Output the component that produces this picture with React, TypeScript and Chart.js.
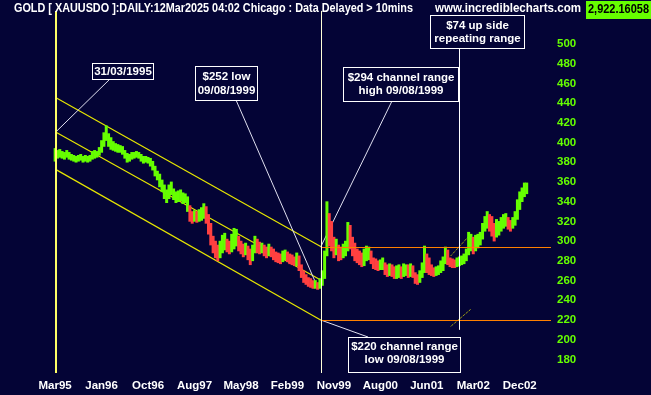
import React, { useEffect, useRef } from "react";
import { Chart, registerables } from "chart.js";

Chart.register(...registerables);

// x unit = one block of ~10 trading days, 0 = 31/03/1995
const xTickValues = [0, 20, 40, 60, 80, 100, 120, 140, 160, 180, 200];
const xTickLabels = ["Mar95", "Jan96", "Oct96", "Aug97", "May98", "Feb99", "Nov99", "Aug00", "Jun01", "Mar02", "Dec02"];
const yTickValues = [180, 200, 220, 240, 260, 280, 300, 320, 340, 360, 380, 400, 420, 440, 460, 480, 500];

const lows = [
  381, 384, 385, 384, 383, 385, 383, 382, 381, 380,
  381, 382, 380, 381, 380, 381, 383, 384, 385, 387,
  390, 396, 402, 396, 393, 392, 391, 390, 390, 388,
  384, 380, 381, 383, 384, 385, 384, 381, 379, 380,
  379, 376, 372, 366, 362, 355, 350, 343, 339, 343,
  347, 342, 339, 340, 341, 338, 339, 330, 320, 318,
  320, 319, 320, 321, 323, 318, 307, 296, 288, 283,
  280, 283, 288, 291, 289, 287, 289, 292, 295, 290,
  287, 284, 286, 281, 276, 280, 288, 288, 287, 288,
  285, 283, 285, 284, 281, 279, 278, 277, 279, 281,
  279, 277, 276, 275, 275, 270, 263, 258, 256, 254,
  253, 252, 252, 251, 252, 255, 262, 285, 295, 290,
  283, 286, 280, 281, 283, 285, 290, 292, 285, 280,
  278, 276, 274, 275, 280, 281, 277, 272, 271, 270,
  271, 271, 266, 264, 265, 264, 262, 262, 263, 262,
  264, 265, 263, 264, 263, 257, 256, 258, 263, 268,
  268, 266, 265, 264, 265, 266, 268, 270, 277, 276,
  274, 273, 273, 274, 275, 276, 277, 280, 286, 290,
  287, 290, 293, 296, 302, 310, 313, 310, 305, 300,
  304, 306, 310, 313, 315, 312, 310, 313, 316, 322,
  332, 340, 345, 348,
];
const highs = [
  394, 392, 393, 391, 390, 392, 390, 388, 387, 386,
  387, 388, 386, 387, 386, 387, 391, 392, 391, 395,
  402, 410, 417, 409, 405, 401, 399, 398, 397, 396,
  392, 389, 388, 390, 390, 391, 390, 388, 386, 386,
  385, 384, 381, 376, 371, 368, 362, 357, 352, 357,
  360, 353, 350, 351, 352, 349, 348, 345, 336, 330,
  331, 330, 332, 334, 338, 335, 327, 318, 305, 300,
  296, 300, 306, 308, 302, 300, 307, 313, 312, 305,
  300, 297, 298, 295, 292, 296, 305, 302, 299, 298,
  296, 294, 297, 294, 292, 289, 288, 287, 290, 291,
  289, 287, 286, 284, 288, 285, 276, 270, 266, 263,
  262, 260, 260, 258, 262, 270, 290, 340, 328, 320,
  304, 302, 296, 294, 297, 300, 319, 316, 304, 298,
  292, 290, 288, 292, 295, 294, 290, 283, 282, 280,
  281, 283, 278, 276, 277, 276, 274, 275, 276, 274,
  277, 276, 276, 277, 275, 268, 266, 270, 278, 295,
  287, 283, 276, 273, 274, 275, 280, 284, 294, 291,
  283, 282, 281, 283, 284, 285, 287, 292, 309, 307,
  304, 306, 307, 309, 318, 325, 330, 327, 325, 318,
  322, 320, 324, 327, 328, 324, 321, 324, 330, 342,
  350, 354, 359, 359,
];
const allGreenBefore = 58;

// annotation anchors (x units, price)
const channelStartX = 0;
const channelEndX = 114.3; // 09/08/1999
const channelUpper = [446, 294.5];
const channelMiddle = [411, 260.5];
const channelLower = [373, 220];
const rangeHigh = 294;
const rangeLow = 220;
const lowPoint = [113.2, 252];
const repeatX = 174;
const repeatBottom = 210;
const dotUpper = [[170.3, 285], [178.1, 305]];
const dotLower = [[170.3, 213.5], [179, 231]];

const BG = "#040436";
const GREEN = "#66ff00";
const RED = "#ff4040";
const FONT = "'Liberation Sans', Arial, sans-serif";

function fitText(ctx: CanvasRenderingContext2D, text: string, x: number, y: number, w: number, font: string, color: string) {
  ctx.save();
  ctx.font = font;
  ctx.fillStyle = color;
  ctx.textBaseline = "middle";
  ctx.textAlign = "left";
  const m = ctx.measureText(text).width;
  ctx.translate(x, y);
  ctx.scale(w / m, 1);
  ctx.fillText(text, 0, 0);
  ctx.restore();
}

function drawBox(ctx: CanvasRenderingContext2D, x1: number, y1: number, x2: number, y2: number, lines: string[], ys: number[]) {
  ctx.save();
  ctx.fillStyle = BG;
  ctx.fillRect(x1, y1, x2 - x1, y2 - y1);
  ctx.strokeStyle = "#ffffff";
  ctx.lineWidth = 1;
  ctx.strokeRect(x1 + 0.5, y1 + 0.5, x2 - x1, y2 - y1);
  ctx.fillStyle = "#ffffff";
  ctx.font = `bold 11.5px ${FONT}`;
  ctx.textAlign = "center";
  ctx.textBaseline = "middle";
  lines.forEach((t, i) => ctx.fillText(t, (x1 + x2) / 2 + 0.5, ys[i]));
  ctx.restore();
}

function line(ctx: CanvasRenderingContext2D, x1: number, y1: number, x2: number, y2: number, color: string, w = 1, dash: number[] = []) {
  ctx.save();
  ctx.strokeStyle = color;
  ctx.lineWidth = w;
  ctx.setLineDash(dash);
  ctx.beginPath();
  ctx.moveTo(x1, y1);
  ctx.lineTo(x2, y2);
  ctx.stroke();
  ctx.restore();
}

const decoPlugin = {
  id: "deco",
  beforeDraw(chart: any) {
    const ctx = chart.ctx;
    ctx.save();
    ctx.fillStyle = BG;
    ctx.fillRect(0, 0, chart.width, chart.height);
    ctx.restore();
  },
  beforeDatasetsDraw(chart: any) {
    const ctx = chart.ctx as CanvasRenderingContext2D;
    const X = (v: number) => chart.scales.x.getPixelForValue(v);
    const Y = (v: number) => chart.scales.y.getPixelForValue(v);
    const yel = "#e6e600";
    [channelUpper, channelMiddle, channelLower].forEach((c) =>
      line(ctx, X(channelStartX), Y(c[0]), X(channelEndX), Y(c[1]), yel, 1.2)
    );
    line(ctx, X(dotUpper[0][0]), Y(dotUpper[0][1]), X(dotUpper[1][0]), Y(dotUpper[1][1]), yel, 1, [1, 1]);
    line(ctx, X(dotLower[0][0]), Y(dotLower[0][1]), X(dotLower[1][0]), Y(dotLower[1][1]), yel, 1, [1, 1]);
    const conn = "#e0e0f0";
    line(ctx, 110, 79, X(channelStartX) + 1, Y(channelMiddle[0]), conn);
    line(ctx, 236, 100, X(lowPoint[0]), Y(lowPoint[1]), conn);
    line(ctx, 392, 101, X(channelEndX), Y(rangeHigh), conn);
    line(ctx, X(channelEndX), Y(rangeLow), 368, 337, conn);
  },
  afterDatasetsDraw(chart: any) {
    const ctx = chart.ctx as CanvasRenderingContext2D;
    const X = (v: number) => chart.scales.x.getPixelForValue(v);
    const Y = (v: number) => chart.scales.y.getPixelForValue(v);
    const R = (p: number) => Math.round(p) + 0.5;
    const { top, bottom } = chart.chartArea;
    const right = chart.chartArea.right - 2;
    const orange = "#ff8000";
    line(ctx, X(channelEndX), R(Y(rangeHigh)), right, R(Y(rangeHigh)), orange);
    line(ctx, X(channelEndX), R(Y(rangeLow)), right, R(Y(rangeLow)), orange);

    const x0 = Math.round(X(channelStartX));
    line(ctx, x0 + 1, top, x0 + 1, bottom, "#ffff66", 2);
    const x1 = Math.round(X(channelEndX)) + 0.5;
    line(ctx, x1, top, x1, bottom, "#ffffd8", 1);
    const x2 = Math.round(X(repeatX)) + 0.5;
    line(ctx, x2, 48, x2, Y(repeatBottom), "#ffffff", 1);

    drawBox(ctx, 92, 63, 153, 79, ["31/03/1995"], [71.5]);
    drawBox(ctx, 195, 66, 257, 100, ["$252 low", "09/08/1999"], [77, 90.5]);
    drawBox(ctx, 343, 67, 458, 101, ["$294 channel range", "high 09/08/1999"], [77.5, 91]);
    drawBox(ctx, 348, 337, 460, 372, ["$220 channel range", "low 09/08/1999"], [346.5, 360]);
    drawBox(ctx, 430, 15, 524, 48, ["$74 up side", "repeating range"], [26, 39]);

    fitText(ctx, "GOLD [ XAUUSDO ]:DAILY:12Mar2025 04:02 Chicago : Data Delayed > 10mins", 14, 8.5, 399, `bold 12px ${FONT}`, "#ffffff");
    fitText(ctx, "www.incrediblecharts.com", 435, 8.5, 146, `bold 12px ${FONT}`, "#ffffff");
    ctx.save();
    ctx.fillStyle = GREEN;
    ctx.fillRect(586, 1, 65, 18);
    ctx.restore();
    fitText(ctx, "2,922.16058", 588, 10, 61, `bold 12px ${FONT}`, "#000000");
  },
};

export default function App() {
  const ref = useRef<HTMLCanvasElement>(null);
  useEffect(() => {
    document.body.style.margin = "0";
    const colors = lows.map((lo, i) => {
      if (i < allGreenBefore) return GREEN;
      const mid = (lo + highs[i]) / 2;
      const prev = (lows[i - 1] + highs[i - 1]) / 2;
      return mid >= prev ? GREEN : RED;
    });
    const chart = new Chart(ref.current as HTMLCanvasElement, {
      type: "bar",
      data: {
        datasets: [
          {
            data: lows.map((lo, i) => ({ x: i, y: [lo, highs[i]] })) as any,
            backgroundColor: colors,
            borderWidth: 0,
            barPercentage: 1,
            categoryPercentage: 1,
          },
        ],
      },
      options: {
        animation: false,
        responsive: false,
        maintainAspectRatio: false,
        layout: { padding: 0 },
        plugins: { legend: { display: false }, tooltip: { enabled: false } },
        scales: {
          x: {
            type: "linear",
            min: -12.92,
            max: 203.5,
            grid: { display: false, drawTicks: false },
            border: { display: false },
            ticks: {
              color: "#ffffff",
              font: { family: FONT, weight: "bold", size: 11.5 },
              padding: 6,
              autoSkip: false,
              maxRotation: 0,
              callback: (v: any) => {
                const i = xTickValues.indexOf(Number(v));
                return i >= 0 ? xTickLabels[i] : "";
              },
            },
            afterBuildTicks: (a: any) => {
              a.ticks = xTickValues.map((v) => ({ value: v }));
            },
            afterFit: (a: any) => {
              a.height = 22;
            },
          },
          y: {
            position: "right",
            min: 166.2,
            max: 533.5,
            grid: { display: false, drawTicks: false },
            border: { display: false },
            ticks: {
              color: GREEN,
              font: { family: FONT, weight: "bold", size: 11.5 },
              padding: 4,
              autoSkip: false,
            },
            afterBuildTicks: (a: any) => {
              a.ticks = yTickValues.map((v) => ({ value: v }));
            },
            afterFit: (a: any) => {
              a.width = 98;
            },
          },
        },
      } as any,
      plugins: [decoPlugin],
    });
    return () => chart.destroy();
  }, []);
  return (
    <div style={{ position: "fixed", left: 0, top: 0, width: 651, height: 395 }}>
      <canvas ref={ref} width={651} height={395} style={{ display: "block", width: 651, height: 395 }} />
    </div>
  );
}
